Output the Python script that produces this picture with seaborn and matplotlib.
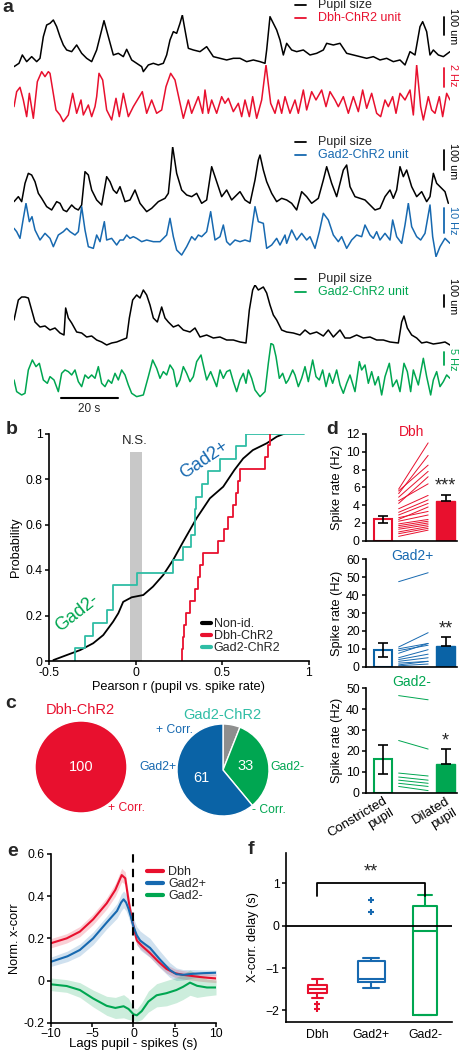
import numpy as np
import matplotlib
matplotlib.use("Agg")
import matplotlib.pyplot as plt
import seaborn as sns
from matplotlib.lines import Line2D

# =====================================================
# Colours / figure size
# =====================================================
W, H = 460, 1050
RED = "#E8102E"
BLUE = "#1769B0"
PIE_BLUE = "#0A63A6"
GREEN = "#00A651"
TEAL = "#2FBDA5"
GRAY_NS = "#C8C8C8"
GRAY_PIE = "#8E8E8E"

# =====================================================
# Panel a: traces, (sample, value) pairs, 8.7 samples = 1 s
# =====================================================
dbh_pupil = [(42,20),(57,30),(67,55),(80,35),(95,50),(110,35),(120,45),(130,110),(140,145),(150,150),
             (160,160),(170,140),(180,110),(190,85),(200,70),(215,65),(230,85),(245,60),(260,45),(275,35),
             (290,70),(300,110),(312,158),(325,110),(340,55),(355,60),(370,50),(380,72),(395,40),(410,30),
             (425,20),(430,5),(445,25),(460,30),(475,25),(490,30),(500,55),(510,100),(520,125),(530,120),
             (540,150),(547,175),(555,130),(565,75),(580,70),(600,65),(620,80),(640,50),(660,45),(680,40),
             (700,45),(720,45),(740,35),(760,40),(780,35),(795,30),(800,70),(810,170),(820,150),(830,130),
             (840,100),(850,55),(860,90),(875,70),(890,65),(910,70),(930,55),(950,60),(970,70),(980,90),
             (1000,85),(1020,90),(1040,60),(1060,55),(1080,50),(1100,45),(1120,50),(1140,40),(1160,45),
             (1180,35),(1200,40),(1215,25),(1230,65),(1245,55),(1260,140),(1268,155),(1280,125),(1290,55),
             (1300,70),(1315,55),(1330,50),(1350,65)]
dbh_rate = [(42,50),(50,95),(60,108),(70,70),(80,20),(88,90),(100,15),(112,125),(125,155),(135,140),
            (145,155),(150,150),(168,40),(180,25),(190,5),(205,25),(218,90),(230,30),(243,70),(250,25),
            (265,55),(275,20),(285,50),(290,80),(297,150),(308,130),(320,40),(335,10),(348,75),(358,20),
            (370,90),(385,20),(400,50),(427,95),(440,30),(455,70),(470,30),(485,40),(498,110),(512,150),
            (525,130),(538,70),(550,15),(565,70),(575,30),(595,80),(608,30),(615,100),(625,30),(635,70),
            (650,30),(665,80),(675,60),(685,75),(700,35),(715,60),(725,20),(735,70),(748,20),(758,80),
            (770,15),(785,70),(798,175),(812,60),(825,30),(835,70),(845,30),(855,80),(870,30),(885,70),
            (895,30),(910,100),(920,40),(935,95),(948,70),(965,100),(978,50),(990,95),(1005,70),(1015,50),
            (1030,80),(1045,30),(1060,80),(1075,35),(1088,100),(1100,45),(1115,90),(1130,30),(1142,20),
            (1155,70),(1165,50),(1178,80),(1188,30),(1200,90),(1215,70),(1230,100),(1240,25),(1250,175),
            (1262,50),(1270,10),(1285,80),(1295,40),(1305,30),(1318,80),(1328,20),(1340,90),(1350,70)]
gad2p_pupil = [(42,35),(55,50),(65,35),(75,90),(85,120),(95,115),(105,95),(115,60),(125,45),(140,20),
               (155,10),(170,35),(180,30),(190,10),(200,5),(215,25),(225,15),(235,10),(245,25),(255,125),
               (265,115),(275,70),(290,40),(305,25),(320,110),(330,95),(340,70),(350,60),(360,80),(375,35),
               (390,40),(405,70),(420,30),(440,5),(455,15),(475,35),(495,45),(505,60),(512,130),(518,200),
               (530,120),(545,70),(560,55),(575,50),(590,60),(605,30),(620,40),(635,140),(645,110),(655,80),
               (665,50),(680,70),(695,40),(710,55),(720,65),(735,40),(750,30),(765,100),(775,160),(780,175),
               (790,130),(800,95),(815,60),(830,35),(845,45),(860,40),(875,30),(890,10),(905,65),(920,50),
               (935,30),(955,45),(970,100),(980,140),(995,90),(1010,50),(1020,90),(1030,130),(1040,145),
               (1050,80),(1065,50),(1080,45),(1095,40),(1110,25),(1125,10),(1140,15),(1155,50),(1170,70),
               (1180,45),(1190,70),(1200,140),(1210,110),(1220,130),(1235,80),(1250,50),(1265,65),(1280,35),
               (1290,50),(1300,120),(1310,90),(1320,80),(1335,65),(1345,30)]
gad2p_rate = [(42,85),(50,75),(60,55),(70,115),(78,160),(88,105),(96,120),(105,80),(120,50),(135,70),
              (150,55),(160,30),(175,65),(190,75),(200,85),(210,75),(225,65),(235,75),(245,150),(255,80),
              (265,30),(280,25),(290,65),(300,45),(313,105),(320,50),(335,55),(350,35),(360,50),(370,50),
              (380,65),(390,55),(400,60),(410,55),(425,45),(440,50),(460,45),(480,45),(500,65),(510,115),
              (520,60),(530,20),(545,5),(560,30),(575,60),(585,50),(595,65),(605,60),(620,75),(632,135),
              (645,50),(660,60),(670,95),(680,45),(690,35),(705,50),(720,45),(735,50),(750,45),(765,150),
              (775,105),(790,100),(800,25),(815,35),(830,55),(840,35),(855,65),(860,40),(875,80),(890,50),
              (905,70),(920,50),(930,60),(945,25),(958,75),(970,130),(985,110),(1000,65),(1015,45),(1025,60),
              (1040,25),(1055,50),(1070,65),(1085,60),(1095,95),(1110,65),(1120,55),(1130,75),(1140,50),
              (1155,70),(1170,50),(1178,110),(1190,60),(1205,40),(1215,95),(1225,160),(1235,90),(1250,60),
              (1262,50),(1275,70),(1290,155),(1298,60),(1308,0),(1320,30),(1335,55),(1350,40)]
gad2m_pupil = [(42,30),(55,50),(65,53),(75,53),(85,52),(95,40),(105,28),(120,23),(135,24),(150,20),
               (165,22),(180,17),(192,15),(197,42),(205,32),(215,27),(230,18),(245,17),(260,13),(275,14),
               (290,10),(305,8),(320,5),(335,7),(350,8),(365,10),(380,12),(388,32),(398,50),(410,55),
               (420,52),(430,60),(440,55),(450,45),(460,32),(472,28),(485,43),(495,32),(505,28),(520,23),
               (535,25),(550,20),(570,18),(585,22),(600,13),(620,15),(640,12),(660,13),(680,10),(700,10),
               (720,8),(738,7),(748,40),(758,60),(765,65),(775,60),(790,63),(800,57),(810,45),(820,35),
               (830,30),(845,20),(860,18),(880,17),(900,15),(915,20),(930,16),(950,18),(970,14),(985,20),
               (1000,13),(1020,20),(1035,12),(1050,12),(1070,15),(1090,12),(1110,13),(1130,10),(1150,10),
               (1170,8),(1195,7),(1205,28),(1212,34),(1222,22),(1235,15),(1250,12),(1265,7),(1280,8),
               (1300,6),(1320,7),(1335,8),(1350,5)]
gad2m_rate = [(42,55),(50,20),(65,10),(75,15),(85,85),(97,115),(108,95),(118,105),(130,55),(142,45),
              (150,65),(162,55),(175,20),(185,75),(195,85),(205,80),(215,70),(225,85),(235,50),(245,35),
              (255,70),(265,60),(275,70),(285,60),(295,95),(305,45),(315,35),(325,55),(335,45),(345,75),
              (355,55),(365,85),(375,70),(385,40),(395,15),(410,5),(430,10),(445,65),(458,115),(470,90),
              (480,60),(490,80),(500,70),(510,100),(520,85),(530,35),(540,55),(550,95),(560,75),(570,50),
              (580,65),(590,110),(603,130),(612,90),(620,55),(632,80),(642,55),(650,35),(660,85),(670,60),
              (680,80),(690,85),(700,50),(710,20),(720,55),(730,75),(738,45),(745,85),(755,60),(765,25),
              (780,5),(795,20),(805,105),(813,165),(820,160),(828,125),(838,60),(848,75),(858,45),(865,55),
              (878,85),(885,70),(895,35),(905,60),(915,95),(925,50),(938,115),(948,65),(958,55),(968,85),
              (978,35),(988,75),(998,45),(1010,85),(1020,40),(1030,15),(1040,45),(1050,70),(1065,20),
              (1078,110),(1085,85),(1095,100),(1105,45),(1115,80),(1125,40),(1135,65),(1145,10),(1155,65),
              (1168,105),(1178,35),(1190,55),(1200,20),(1212,105),(1222,80),(1232,20),(1240,85),(1255,40),
              (1270,120),(1280,65),(1292,10),(1300,55),(1310,80),(1320,35),(1330,50),(1340,70),(1350,60)]

# =====================================================
# Panel b: Pearson r cumulative distributions
# =====================================================
nonid_r = [-0.475, -0.398, -0.32, -0.245, -0.187, -0.13, -0.10, -0.072, -0.023, 0.044, 0.10, 0.159,
           0.216, 0.274, 0.351, 0.428, 0.505, 0.57, 0.62, 0.676, 0.756, 0.814, 0.86]
nonid_p = [0.004, 0.026, 0.048, 0.078, 0.114, 0.173, 0.21, 0.26, 0.28, 0.29, 0.327, 0.378,
           0.444, 0.524, 0.627, 0.715, 0.766, 0.84, 0.89, 0.927, 0.957, 0.986, 1.0]
dbh_r = [0.270, 0.272, 0.276, 0.29, 0.313, 0.341, 0.36, 0.37, 0.39, 0.476, 0.51, 0.53, 0.56,
         0.58, 0.59, 0.60, 0.745, 0.762, 0.775]
gad2_r = [-0.35, -0.29, -0.245, -0.166, -0.13, -0.13, 0.008, 0.214, 0.275, 0.317, 0.34, 0.34,
          0.35, 0.38, 0.418, 0.486, 0.58, 0.635]
ns_band = (-0.033, 0.034)

# =====================================================
# Panel c: pies (%)
# =====================================================
dbh_pie = [100]
gad2_pie = [6, 33, 61]  # n.s., - corr, + corr

# =====================================================
# Panel d: spike rate constricted vs dilated
# =====================================================
d_conditions = ["Constricted\npupil", "Dilated\npupil"]
dbh_const = [5.8, 5.6, 5.3, 4.9, 4.5, 4.2, 3.6, 3.2, 2.9, 2.6, 2.4, 2.2, 1.9, 1.7, 1.5, 1.3, 1.0, 0.8, 0.5]
dbh_dil = [11.0, 8.5, 9.6, 7.8, 6.4, 7.2, 5.1, 4.6, 4.2, 3.3, 3.8, 2.9, 2.4, 2.2, 2.0, 1.8, 1.6, 1.4, 1.2]
dbh_mean, dbh_err = [2.4, 4.5], [0.4, 0.7]
gp_const = [47.5, 11.0, 10.0, 9.0, 7.5, 5.0, 4.0, 3.0, 2.0, 1.0, 0.5]
gp_dil = [52.5, 19.0, 13.0, 12.0, 13.0, 9.5, 7.0, 5.0, 3.0, 3.0, 1.5]
gp_mean, gp_err = [9.2, 11.8], [4.0, 4.6]
gm_const = [46.5, 25.0, 9.4, 7.5, 6.0, 4.5, 3.0]
gm_dil = [44.5, 20.9, 8.0, 6.0, 4.5, 3.0, 1.0]
gm_mean, gm_err = [16.0, 13.8], [7.0, 7.0]

# =====================================================
# Panel e: normalised cross-correlation
# =====================================================
dbh_lag = [-10, -8.1, -6.5, -4.9, -3.25, -2.2, -1.43, -1.0, -0.6, -0.2, 0.4, 1, 2, 3, 4, 5, 6, 7, 8, 9, 10]
dbh_xc = [0.177, 0.2, 0.232, 0.29, 0.366, 0.43, 0.50, 0.485, 0.38, 0.29, 0.19, 0.165, 0.13, 0.09,
          0.055, 0.035, 0.027, 0.022, 0.017, 0.013, 0.01]
dbh_sem = [0.022, 0.022, 0.024, 0.025, 0.027, 0.03, 0.032, 0.03, 0.028, 0.025, 0.022, 0.02, 0.02,
           0.02, 0.02, 0.02, 0.02, 0.02, 0.02, 0.02, 0.02]
gp_lag = [-10, -8, -6.5, -4.9, -3.25, -2, -1.5, -1.2, -0.9, -0.6, -0.3, 0, 0.4, 0.8, 1.3, 2, 3.2, 4.4,
          5.2, 6, 7.2, 8.5, 10]
gp_xc = [0.089, 0.115, 0.145, 0.2, 0.275, 0.33, 0.37, 0.385, 0.37, 0.34, 0.3, 0.255, 0.215, 0.19,
         0.175, 0.155, 0.1, 0.05, 0.03, 0.027, 0.032, 0.035, 0.037]
gp_sem = [0.022, 0.025, 0.028, 0.03, 0.03, 0.035, 0.04, 0.04, 0.04, 0.04, 0.04, 0.04, 0.04, 0.045,
          0.045, 0.045, 0.04, 0.035, 0.03, 0.025, 0.02, 0.015, 0.012]
gm_lag = [-10, -8.1, -6.5, -4.9, -3.25, -2.2, -1.2, -0.6, 0, 0.4, 1, 1.8, 2.8, 4, 5.2, 6, 6.85, 7.7, 8.9, 10]
gm_xc = [-0.018, -0.026, -0.045, -0.085, -0.12, -0.13, -0.122, -0.135, -0.16, -0.165, -0.145, -0.1,
         -0.07, -0.06, -0.045, -0.03, -0.01, -0.025, -0.033, -0.033]
gm_sem = [0.03, 0.03, 0.035, 0.04, 0.045, 0.05, 0.055, 0.05, 0.03, 0.03, 0.04, 0.05, 0.055, 0.06,
          0.06, 0.06, 0.06, 0.055, 0.04, 0.035]

# =====================================================
# Panel f: x-corr delay box summaries
# =====================================================
f_groups = ["Dbh", "Gad2+", "Gad2-"]
f_med = [-1.49, -1.26, -0.12]
f_q1 = [-1.58, -1.34, -2.12]
f_q3 = [-1.405, -0.83, 0.47]
f_whislo = [-1.70, -1.48, -2.12]
f_whishi = [-1.25, -0.77, 0.73]
f_fliers = [[-1.86, -1.96], [0.33, 0.62], []]

# =====================================================
# Style
# =====================================================
sns.set_theme(style="ticks")
plt.rcParams["font.family"] = ["Liberation Sans", "DejaVu Sans"]
plt.rcParams.update({
    "font.size": 9, "axes.linewidth": 1.2, "axes.edgecolor": "black",
    "xtick.color": "black", "ytick.color": "black", "axes.labelcolor": "black",
    "xtick.labelsize": 8.8, "ytick.labelsize": 8.8, "axes.labelsize": 9.2,
    "xtick.major.size": 3, "ytick.major.size": 3, "xtick.major.width": 1.1,
    "ytick.major.width": 1.1, "xtick.major.pad": 1.5, "ytick.major.pad": 1.5,
})

fig = plt.figure(figsize=(W / 100, H / 100), dpi=100)


def px_axes(l, t, r, b):
    return fig.add_axes([l / W, 1 - b / H, (r - l) / W, (b - t) / H])


# =====================================================
# a. Traces
# =====================================================
traces = [
    (dbh_pupil, 15, 73.3, 175, "black"),
    (dbh_rate, 65, 123.3, 175, RED),
    (gad2p_pupil, 146.7, 213.3, 200, "black"),
    (gad2p_rate, 203.3, 256.7, 160, BLUE),
    (gad2m_pupil, 285, 350, 65, "black"),
    (gad2m_rate, 343.3, 398.3, 165, GREEN),
]
for pts, top, bot, ymax, col in traces:
    ax = px_axes(14, top, 450, bot)
    x, y = np.array(pts, float).T
    sns.lineplot(x=x, y=y, ax=ax, color=col, lw=1.1, sort=False)
    ax.set_xlim(42, 1350)
    ax.set_ylim(0, ymax)
    ax.axis("off")
    ax.patch.set_alpha(0)

# =====================================================
# b. Cumulative distributions
# =====================================================
ax_b = px_axes(49, 433.5, 309, 661)
ax_b.axvspan(*ns_band, ymax=0.92, color=GRAY_NS, lw=0)
ax_b.plot(nonid_r, nonid_p, color="black", lw=1.3)
sns.ecdfplot(x=gad2_r, ax=ax_b, color=TEAL, lw=1.3)
ax_b.plot([max(gad2_r), 0.97], [1, 1], color=TEAL, lw=1.3)
sns.ecdfplot(x=dbh_r, ax=ax_b, color=RED, lw=1.3)
ax_b.set_xlim(-0.5, 1)
ax_b.set_ylim(0, 1)
ax_b.set_xticks([-0.5, 0, 0.5, 1], ["-0.5", "0", "0.5", "1"])
ax_b.set_yticks([0, 0.2, 0.4, 0.6, 0.8, 1], ["0", "0.2", "0.4", "0.6", "0.8", "1"])
ax_b.set_ylabel("Probability", labelpad=3)
ax_b.set_xlabel("Pearson r (pupil vs. spike rate)", labelpad=1)
sns.despine(ax=ax_b)
ax_b.patch.set_alpha(0)
for s in ax_b.spines.values():
    s.set_zorder(5)
handles = [Line2D([], [], color=c, lw=3) for c in ("black", RED, TEAL)]
ax_b.legend(handles, ["Non-id.", "Dbh-ChR2", "Gad2-ChR2"], loc="upper left",
            bbox_to_anchor=(202 / W, 1 - 618 / H), bbox_transform=fig.transFigure,
            frameon=False, fontsize=9, handlelength=0.7, handletextpad=0.25,
            labelspacing=0.0, borderpad=0, borderaxespad=0)

# =====================================================
# c. Pies
# =====================================================
ax_c1 = px_axes(35, 721, 127, 813)
ax_c1.pie(dbh_pie, colors=[RED], startangle=90, autopct=lambda p: f"{p:.0f}",
          pctdistance=0, textprops=dict(color="white", fontsize=10.5))
ax_c1.set_xlim(-1, 1)
ax_c1.set_ylim(-1, 1)

ax_c2 = px_axes(177, 724, 269, 816)
ax_c2.pie(gad2_pie, colors=[GRAY_PIE, GREEN, PIE_BLUE], startangle=90, counterclock=False,
          autopct=lambda p: "" if p < 10 else f"{p:.0f}", pctdistance=0.5,
          textprops=dict(color="white", fontsize=10.5))
ax_c2.set_xlim(-1, 1)
ax_c2.set_ylim(-1, 1)

# =====================================================
# d. Paired spike rates
# =====================================================
d_panels = [
    (434, 540.8, 12, 2, dbh_const, dbh_dil, dbh_mean, dbh_err, RED, "***"),
    (559.3, 666.7, 60, 10, gp_const, gp_dil, gp_mean, gp_err, PIE_BLUE, "**"),
    (688.3, 792.7, 50, 10, gm_const, gm_dil, gm_mean, gm_err, GREEN, "*"),
]
for i, (top, bot, ymax, step, const, dil, mean, err, col, star) in enumerate(d_panels):
    ax = px_axes(366, top, 457, bot)
    sns.barplot(x=d_conditions, y=mean, ax=ax, width=0.3, errorbar=None, color=col, saturation=1)
    open_bar, filled_bar = ax.patches[:2]
    open_bar.set_facecolor("white")
    open_bar.set_edgecolor(col)
    open_bar.set_linewidth(1.5)
    filled_bar.set_facecolor(col)
    filled_bar.set_edgecolor(col)
    line_col = BLUE if col == PIE_BLUE else col
    for c0, c1 in zip(const, dil):
        ax.plot([0.25, 0.72], [c0, c1], color=line_col, lw=0.7)
    ax.errorbar([0], [mean[0]], yerr=[err[0]], color="black", lw=1.2, capsize=3.5, capthick=1.2, zorder=5)
    ax.errorbar([1], [mean[1]], yerr=[[0], [err[1]]], color="black", lw=1.2, capsize=3.5,
                capthick=1.2, zorder=5)
    ax.annotate(star, (1, mean[1] + err[1]), xytext=(0, 0), textcoords="offset points",
                ha="center", va="bottom", fontsize=13)
    ax.set_xlim(-0.27, 1.18)
    ax.set_ylim(0, ymax)
    ax.set_yticks(np.arange(0, ymax + 1, step))
    ax.set_ylabel("Spike rate (Hz)", labelpad=2)
    ax.set_xlabel("")
    ax.tick_params(axis="x", length=0)
    if i < 2:
        ax.set_xticklabels([])
    else:
        for lab in ax.get_xticklabels():
            lab.set_rotation(31)
            lab.set_ha("right")
            lab.set_rotation_mode("anchor")
            lab.set_multialignment("right")
            lab.set_fontsize(9.5)
    sns.despine(ax=ax)
    ax.patch.set_alpha(0)

# =====================================================
# e. Cross-correlation
# =====================================================
ax_e = px_axes(51, 854, 216, 1022.7)
for lag, xc, sem, col in [(dbh_lag, dbh_xc, dbh_sem, RED), (gp_lag, gp_xc, gp_sem, BLUE),
                          (gm_lag, gm_xc, gm_sem, GREEN)]:
    lag, xc, sem = map(np.asarray, (lag, xc, sem))
    ax_e.fill_between(lag, xc - sem, xc + sem, color=col, alpha=0.2, lw=0)
for lag, xc, col in [(dbh_lag, dbh_xc, RED), (gp_lag, gp_xc, BLUE), (gm_lag, gm_xc, GREEN)]:
    sns.lineplot(x=lag, y=xc, ax=ax_e, color=col, lw=1.5)
ax_e.axvline(0, color="black", lw=1.5, dashes=(4, 3))
ax_e.set_xlim(-10, 10)
ax_e.set_ylim(-0.2, 0.6)
ax_e.set_xticks([-10, -5, 0, 5, 10])
ax_e.set_yticks([-0.2, 0, 0.2, 0.4, 0.6], ["-0.2", "0", "0.2", "0.4", "0.6"])
ax_e.tick_params(axis="x", pad=0.5)
ax_e.set_xlabel("Lags pupil - spikes (s)", fontsize=9.5)
ax_e.xaxis.set_label_coords(0.5, -0.088)
ax_e.set_ylabel("Norm. x-corr", labelpad=2)
sns.despine(ax=ax_e)
ax_e.patch.set_alpha(0)
handles = [Line2D([], [], color=c, lw=3) for c in (RED, BLUE, GREEN)]
ax_e.legend(handles, ["Dbh", "Gad2+", "Gad2-"], loc="upper left",
            bbox_to_anchor=(147 / W, 1 - 866 / H), bbox_transform=fig.transFigure,
            frameon=False, fontsize=9, handlelength=1.3, handletextpad=0.4,
            labelspacing=0.0, borderpad=0, borderaxespad=0)

# =====================================================
# f. Delay boxplots
# =====================================================
ax_f = px_axes(285.7, 853, 452, 1021.7)
stats = [dict(med=m, q1=a, q3=b, whislo=lo, whishi=hi, fliers=fl, label=g)
         for g, m, a, b, lo, hi, fl in zip(f_groups, f_med, f_q1, f_q3, f_whislo, f_whishi, f_fliers)]
f_cols = [RED, BLUE, GREEN]
bp = ax_f.bxp(stats, positions=[0, 1, 2], widths=[0.34, 0.5, 0.46], capwidths=[0.22, 0.3, 0.25],
              patch_artist=False, showfliers=True)
for i, c in enumerate(f_cols):
    plt.setp(bp["boxes"][i], color=c, lw=1.5)
    plt.setp(bp["medians"][i], color=c, lw=1.5)
    plt.setp(bp["whiskers"][2 * i:2 * i + 2], color=c, lw=1.5)
    plt.setp(bp["caps"][2 * i:2 * i + 2], color=c, lw=1.5)
    plt.setp(bp["fliers"][i], marker="+", markeredgecolor=c, markersize=4, mew=1.5)
ax_f.axhline(0, color="black", lw=1.3)
ax_f.plot([0, 0, 2, 2], [0.7, 1.0, 1.0, 0.7], color="black", lw=1.3)
ax_f.text(1, 1.06, "**", ha="center", va="bottom", fontsize=13)
ax_f.set_xlim(-0.59, 2.5)
ax_f.set_ylim(-2.27, 1.72)
ax_f.set_yticks([-2, -1, 0, 1])
ax_f.tick_params(axis="x", length=0, pad=5)
ax_f.set_ylabel("X-corr. delay (s)", labelpad=5)
sns.despine(ax=ax_f)
ax_f.patch.set_alpha(0)

# =====================================================
# Overlay: panel letters, legends, scale bars, labels
# =====================================================
ov = fig.add_axes([0, 0, 1, 1])
ov.set_xlim(0, W)
ov.set_ylim(H, 0)
ov.axis("off")
ov.patch.set_alpha(0)

for lx, ly, s in [(8, 8, "a"), (12, 430, "b"), (11, 704, "c"), (332, 430, "d"),
                  (13, 851, "e"), (251, 849, "f")]:
    ov.text(lx, ly, s, fontsize=14, fontweight="bold", ha="center", va="center")

# trace legends
for y0, lab, col in [(5, "Dbh-ChR2 unit", RED), (142, "Gad2-ChR2 unit", BLUE), (279.3, "Gad2-ChR2 unit", GREEN)]:
    ov.plot([295, 306], [y0, y0], color="black", lw=1.3)
    ov.text(318, y0, "Pupil size", va="center", fontsize=9)
    ov.plot([295, 306], [y0 + 12.7, y0 + 12.7], color=col, lw=1.3)
    ov.text(318, y0 + 12.7, lab, va="center", fontsize=9, color=col)

# vertical scale bars
for y0, y1, ty, lab, col in [(17, 35, 26, "100 um", "black"), (68, 87, 75, "2 Hz", RED),
                             (150, 170, 161, "100 um", "black"), (208, 233, 220, "10 Hz", BLUE),
                             (295, 307, 296, "100 um", "black"), (352, 365, 359, "5 Hz", GREEN)]:
    ov.plot([444, 444], [y0, y1], color=col, lw=1.3)
    ov.text(453, ty, lab, rotation=-90, ha="center", va="center", fontsize=7.8, color=col)

ov.plot([61, 118], [398, 398], color="black", lw=1.5)
ov.text(89, 409, "20 s", ha="center", va="center", fontsize=8.5)

ov.text(135, 441, "N.S.", ha="center", va="center", fontsize=9.5)
ov.text(204, 460, "Gad2+", ha="center", va="center", fontsize=13, rotation=34, color=BLUE)
ov.text(77, 613, "Gad2-", ha="center", va="center", fontsize=13, rotation=38, color=GREEN)

ov.text(80, 710, "Dbh-ChR2", ha="center", va="center", fontsize=10.5, color=RED)
ov.text(222, 715, "Gad2-ChR2", ha="center", va="center", fontsize=10.5, color=TEAL)
ov.text(108, 808, "+ Corr.", va="center", fontsize=8.7, color=RED)
ov.text(156, 730, "+ Corr.", va="center", fontsize=8.7, color=BLUE)
ov.text(177, 767, "Gad2+", ha="right", va="center", fontsize=8.8, color=BLUE)
ov.text(270, 767, "Gad2-", va="center", fontsize=8.8, color=GREEN)
ov.text(252, 810, "- Corr.", va="center", fontsize=8.7, color=GREEN)

ov.text(412, 432, "Dbh", ha="center", va="center", fontsize=10, color=RED)
ov.text(412, 556, "Gad2+", ha="center", va="center", fontsize=10, color=BLUE)
ov.text(412, 682, "Gad2-", ha="center", va="center", fontsize=10, color=GREEN)

fig.savefig("out.png", dpi=100)
